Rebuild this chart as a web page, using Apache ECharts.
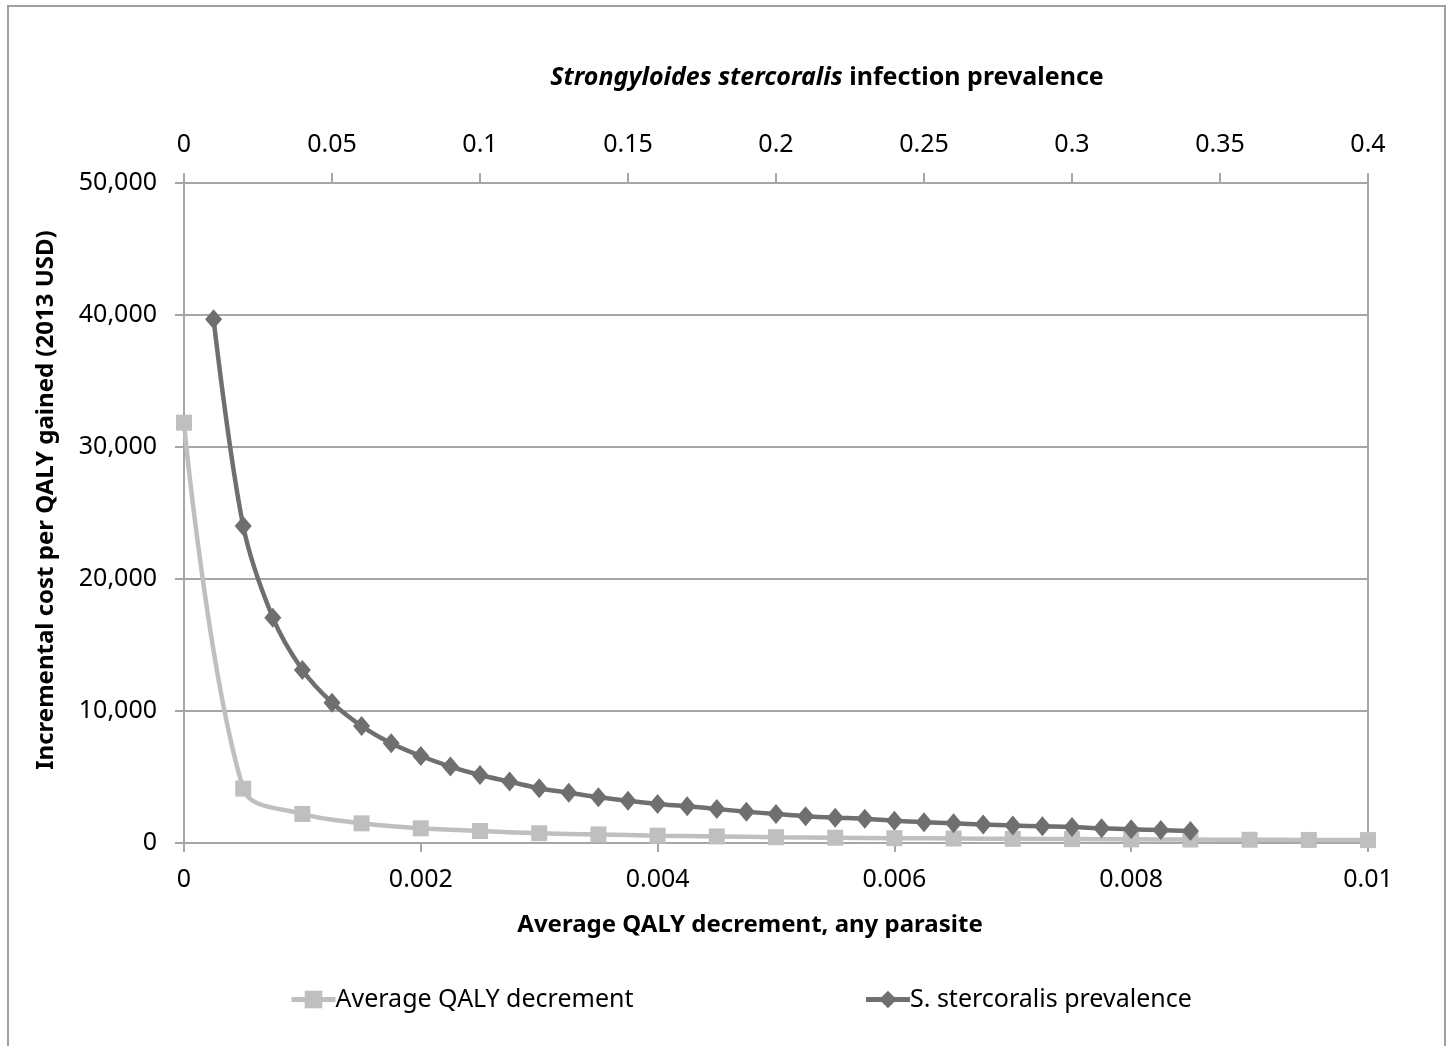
<!DOCTYPE html>
<html>
<head>
<meta charset="utf-8">
<script src="https://cdn.jsdelivr.net/npm/echarts@6/dist/echarts.min.js"></script>
<style>
html,body{margin:0;padding:0;background:#fff;}
#chart{width:1448px;height:1046px;}
</style>
</head>
<body>
<div id="chart"></div>
<script>
// Average QALY decrement (bottom axis)
const qalyX = [0, 0.0005, 0.001, 0.0015, 0.002, 0.0025, 0.003, 0.0035, 0.004, 0.0045, 0.005,
  0.0055, 0.006, 0.0065, 0.007, 0.0075, 0.008, 0.0085, 0.009, 0.0095, 0.01];
const qalyY = [31840, 4120, 2200, 1490, 1110, 910, 740, 650, 555, 500, 440,
  400, 365, 340, 315, 295, 275, 260, 245, 232, 220];

// S. stercoralis prevalence (top axis)
const prevX = [0.01, 0.02, 0.03, 0.04, 0.05, 0.06, 0.07, 0.08, 0.09, 0.10,
  0.11, 0.12, 0.13, 0.14, 0.15, 0.16, 0.17, 0.18, 0.19, 0.20,
  0.21, 0.22, 0.23, 0.24, 0.25, 0.26, 0.27, 0.28, 0.29, 0.30,
  0.31, 0.32, 0.33, 0.34];
const prevY = [39680, 24020, 17070, 13110, 10630, 8860, 7560, 6590, 5790, 5150,
  4650, 4150, 3810, 3470, 3210, 2960, 2790, 2580, 2370, 2200,
  2030, 1920, 1840, 1680, 1580, 1490, 1400, 1320, 1270, 1220,
  1110, 1040, 980, 910];

const seriesNames = ['Average QALY decrement', 'S. stercoralis prevalence'];
const bottomTitle = 'Average QALY decrement, any parasite';
const leftTitle = 'Incremental cost per QALY gained (2013 USD)';

const FONT = 'Noto Sans';
const GRAY = '#a6a6a6';
const LIGHT = '#bfbfbf';
const DARK = '#6f6f6f';

const chart = echarts.init(document.getElementById('chart'), null, {renderer: 'canvas'});
chart.setOption({
  backgroundColor: '#fff',
  animation: false,
  textStyle: {fontFamily: FONT, color: '#000'},
  graphic: [{
    type: 'rect', z: -10,
    shape: {x: 8, y: 6, width: 1437, height: 1060},
    style: {fill: 'none', stroke: '#a0a0a0', lineWidth: 2}
  }],
  grid: {left: 184, right: 80, top: 183, bottom: 203, containLabel: false},
  legend: {
    left: 284, top: 982,
    itemWidth: 44, itemHeight: 22, itemGap: 230,
    lineStyle: {width: 5},
    textStyle: {fontFamily: FONT, fontSize: 25, color: '#000', padding: [0, 0, 0, -5]},
    data: seriesNames
  },
  xAxis: [{
    type: 'value', position: 'bottom', min: 0, max: 0.01, interval: 0.002,
    name: bottomTitle, nameLocation: 'middle', nameGap: 70,
    nameTextStyle: {fontFamily: FONT, fontSize: 24, fontWeight: 'bold', color: '#000', padding: [0, 52, 0, 0]},
    axisLine: {show: true, onZero: false, lineStyle: {color: GRAY, width: 2}},
    axisTick: {show: true, length: 9, lineStyle: {color: GRAY, width: 2}},
    axisLabel: {fontFamily: FONT, fontSize: 25, color: '#000', margin: 24},
    splitLine: {show: false}
  }, {
    type: 'value', position: 'top', min: 0, max: 0.4, interval: 0.05,
    name: '{i|Strongyloides stercoralis }{n|infection prevalence}',
    nameLocation: 'middle', nameGap: 93,
    nameTextStyle: {
      padding: [0, 0, 0, 102],
      rich: {
        i: {fontFamily: FONT, fontSize: 25, fontWeight: 'bold', fontStyle: 'italic', color: '#000'},
        n: {fontFamily: FONT, fontSize: 25, fontWeight: 'bold', color: '#000'}
      }
    },
    axisLine: {show: true, onZero: false, lineStyle: {color: GRAY, width: 2}},
    axisTick: {show: true, length: 10, lineStyle: {color: GRAY, width: 2}},
    axisLabel: {fontFamily: FONT, fontSize: 25, color: '#000', margin: 26},
    splitLine: {show: false}
  }],
  yAxis: [{
    type: 'value', position: 'left', min: 0, max: 50000, interval: 10000,
    name: leftTitle, nameLocation: 'middle', nameGap: 126,
    nameTextStyle: {fontFamily: FONT, fontSize: 24, fontWeight: 'bold', color: '#000', padding: [0, 0, 0, 26]},
    axisLine: {show: true, onZero: false, lineStyle: {color: GRAY, width: 2}},
    axisTick: {show: true, length: 9, lineStyle: {color: GRAY, width: 2}},
    axisLabel: {
      fontFamily: FONT, fontSize: 25, color: '#000', margin: 27,
      formatter: v => v.toLocaleString('en-US')
    },
    splitLine: {show: true, lineStyle: {color: GRAY, width: 2}}
  }, {
    type: 'value', position: 'right', min: 0, max: 50000, interval: 10000,
    axisLine: {show: true, onZero: false, lineStyle: {color: GRAY, width: 2}},
    axisTick: {show: false}, axisLabel: {show: false}, splitLine: {show: false}
  }],
  series: [{
    name: seriesNames[0], type: 'line', xAxisIndex: 0, yAxisIndex: 0,
    data: qalyX.map((x, i) => [x, qalyY[i]]),
    smooth: 0.35,
    symbol: 'rect', symbolSize: 16,
    lineStyle: {color: LIGHT, width: 4.5},
    itemStyle: {color: LIGHT},
    z: 2
  }, {
    name: seriesNames[1], type: 'line', xAxisIndex: 1, yAxisIndex: 0,
    data: prevX.map((x, i) => [x, prevY[i]]),
    smooth: 0.35,
    symbol: 'diamond', symbolSize: [17, 20],
    lineStyle: {color: DARK, width: 4.5},
    itemStyle: {color: DARK},
    z: 3
  }]
});
</script>
</body>
</html>
